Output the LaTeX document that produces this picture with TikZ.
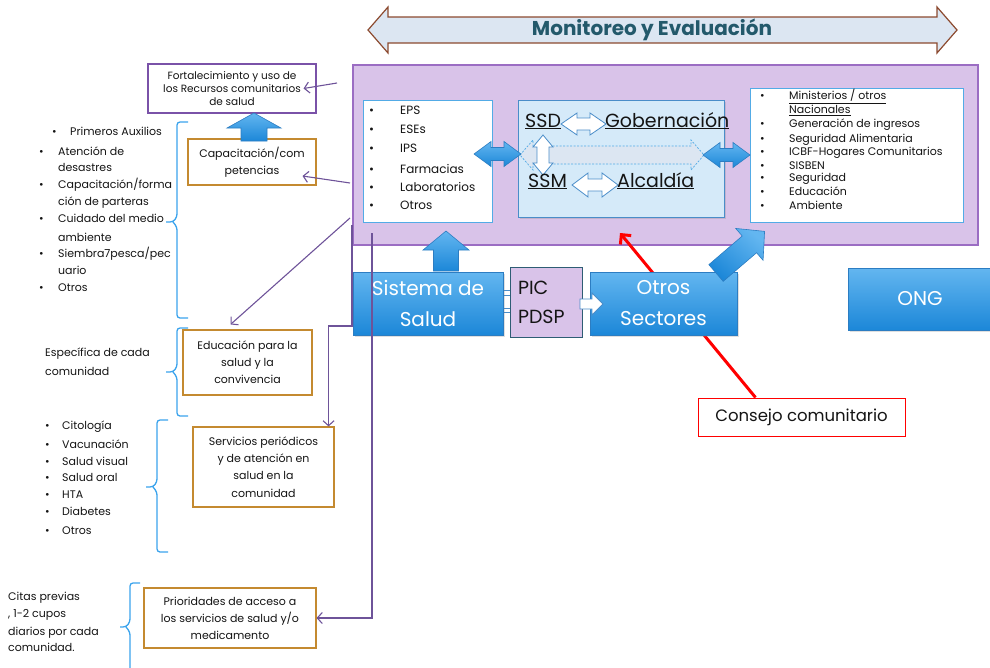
\documentclass[tikz,border=0pt]{standalone}
\usepackage{fontspec}
\setmainfont{Poppins}
\usetikzlibrary{arrows.meta,shadows}

\definecolor{lav}{HTML}{D9C3E9}
\definecolor{lavedge}{HTML}{9B6DC3}
\definecolor{skyfill}{HTML}{D5EAF9}
\definecolor{skyedge}{HTML}{4A8DC9}
\definecolor{listedge}{HTML}{52ABE6}
\definecolor{bluetop}{HTML}{63B6F0}
\definecolor{bluebot}{HTML}{1C87D8}
\definecolor{blueedge}{HTML}{2C7DC2}
\definecolor{orng}{HTML}{C48A30}
\definecolor{purp}{HTML}{6E5399}
\definecolor{fortedge}{HTML}{7A52A8}
\definecolor{brc}{HTML}{3BA3EC}
\definecolor{titlefill}{HTML}{DCE6F2}
\definecolor{titleedge}{HTML}{8C4A2F}
\definecolor{titletext}{HTML}{23596B}
\definecolor{picedge}{HTML}{2E5D74}
\definecolor{txt}{HTML}{141414}

\newcommand\fsz[2]{\fontsize{#1}{#2}\selectfont}
% horizontal double block arrow: x-left, x-right, y-centre, shaft half, head half, head length, style
\newcommand\hdarrow[7]{\draw[#7] (#1,#3) -- ({#1+#6},{#3-#5}) -- ({#1+#6},{#3-#4}) -- ({#2-#6},{#3-#4}) -- ({#2-#6},{#3-#5}) -- (#2,#3) -- ({#2-#6},{#3+#5}) -- ({#2-#6},{#3+#4}) -- ({#1+#6},{#3+#4}) -- ({#1+#6},{#3+#5}) -- cycle;}
% vertical double block arrow: y-top, y-bottom, x-centre, shaft half, head half, head length, style
\newcommand\vdarrow[7]{\draw[#7] (#3,#1) -- ({#3+#5},{#1+#6}) -- ({#3+#4},{#1+#6}) -- ({#3+#4},{#2-#6}) -- ({#3+#5},{#2-#6}) -- (#3,#2) -- ({#3-#5},{#2-#6}) -- ({#3-#4},{#2-#6}) -- ({#3-#4},{#1+#6}) -- ({#3-#5},{#1+#6}) -- cycle;}
% upward block arrow: y-tip, y-bottom, x-centre, shaft half, head half, head length, style
\newcommand\uparr[7]{\draw[#7] (#3,#1) -- ({#3+#5},{#1+#6}) -- ({#3+#4},{#1+#6}) -- ({#3+#4},#2) -- ({#3-#4},#2) -- ({#3-#4},{#1+#6}) -- ({#3-#5},{#1+#6}) -- cycle;}
% rightward block arrow: x-left, x-tip, y-centre, shaft half, head half, head length, style
\newcommand\rarr[7]{\draw[#7] (#1,{#3-#4}) -- ({#2-#6},{#3-#4}) -- ({#2-#6},{#3-#5}) -- (#2,#3) -- ({#2-#6},{#3+#5}) -- ({#2-#6},{#3+#4}) -- (#1,{#3+#4}) -- cycle;}
% left curly bracket: x of the spine, y-top, y-tip, y-bottom, arm length
\newcommand\bracemark[5]{\draw[bracket] ({#1+#5},#2) -- (#1,#2) -- (#1,{#3-5}) -- ({#1-4},#3) -- ({#1-#5},#3) ({#1-4},#3) -- (#1,{#3+5}) -- (#1,#4) -- ({#1+#5},#4);}

\begin{document}
\begin{tikzpicture}[x=1pt,y=-1pt,
  every node/.style={inner sep=0pt, text=txt},
  obox/.style={draw=orng, line width=1.1pt, fill=white, align=center},
  bluebox/.style={draw=blueedge, line width=0.8pt, top color=bluetop, bottom color=bluebot,
    text=white, align=center, font=\fsz{20}{31},
    drop shadow={shadow xshift=1.5pt, shadow yshift=-1.5pt, opacity=0.25}},
  listbox/.style={draw=listedge, line width=1pt, fill=white},
  litem/.style={anchor=west, text height=0.72em, text depth=0.22em},
  plink/.style={draw=purp, line width=1.1pt, -{Straight Barb[length=5pt,width=11pt,line width=1.1pt]}},
  bracket/.style={draw=brc, line width=1.3pt, rounded corners=3pt},
  bluearrow/.style={draw=blueedge, line width=0.6pt, top color=bluetop, bottom color=bluebot},
  whitearrow/.style={draw=skyedge, line width=0.8pt, fill=white},
]
\useasboundingbox (0,0) rectangle (990,667);

% monitoring banner
\hdarrow{368}{957}{30}{13}{23}{20}{draw=titleedge, fill=titlefill, line width=1.2pt}
\node[font=\bfseries\fsz{20}{22}, text=titletext] (title) at (652,30) {Monitoreo y Evaluación};

% institutional frame
\node[draw=lavedge, fill=lav, line width=1.2pt, minimum width=625, minimum height=180] (frame) at (665.5,155) {};

% health actors
\node[listbox, minimum width=129, minimum height=122] (eps) at (427.5,161) {};
\foreach \y/\t [count=\i] in {112/EPS,131/ESEs,150/IPS,171/Farmacias,189/Laboratorios,207/Otros}{
  \node[litem, font=\fsz{12}{14}] (epsb\i) at (369,\y) {\textbullet};
  \node[litem, font=\fsz{12}{14}] (epst\i) at (400,\y) {\t};
}

% government block
\node[draw=skyedge, fill=skyfill, line width=1pt, minimum width=206, minimum height=117,
  drop shadow={shadow xshift=1.5pt, shadow yshift=-1.5pt, opacity=0.25}] (gov) at (621,158.5) {};
\hdarrow{520}{704}{155}{9}{15}{13}{draw=listedge, dash pattern=on 2pt off 1.5pt, fill=titlefill, line width=0.7pt}
\hdarrow{561}{606}{124}{6}{11}{16}{whitearrow}
\hdarrow{572}{618}{185}{6}{12}{16}{whitearrow}
\vdarrow{135}{175}{543}{6}{10}{12}{whitearrow}
\node[anchor=base west, font=\fsz{19}{22}] (ssd) at (525,127) {\underline{SSD}};
\node[anchor=base west, font=\fsz{19}{22}] (gob) at (605,127) {\underline{Gobernación}};
\node[anchor=base west, font=\fsz{19}{22}] (ssm) at (528,187) {\underline{SSM}};
\node[anchor=base west, font=\fsz{19}{22}] (alc) at (617,187) {\underline{Alcaldía}};

% other sectors list
\node[listbox, minimum width=213, minimum height=134] (sect) at (856.5,155) {};
\foreach \y/\t [count=\i] in {97/{\underline{Ministerios / otros}},125/{Generación de ingresos},140/{Seguridad Alimentaria},153/{ICBF-Hogares Comunitarios},167/SISBEN,179/Seguridad,193/Educación,207/Ambiente}{
  \node[litem, font=\fsz{11}{13}] (secb\i) at (760,\y) {\textbullet};
  \node[litem, font=\fsz{11}{13}] (sect\i) at (789,\y) {\t};
}
\node[litem, font=\fsz{11}{13}] (nac) at (789,111) {\underline{Nacionales}};

% links between blocks
\hdarrow{474}{521}{154}{6.5}{12.5}{17}{bluearrow}
\hdarrow{703}{750}{155}{6.5}{12.5}{17}{bluearrow}

% community council
\node[draw=red, fill=white, line width=1pt, minimum width=207, minimum height=38, font=\fsz{16.5}{20}] (consejo) at (801.5,417) {Consejo comunitario};
\coordinate (redtip) at (620,233);
\draw[red, line width=3pt, -{Straight Barb[length=7pt,width=14pt]}] ([xshift=-46pt]consejo.north) -- (redtip);

% lower blocks
\draw[whitearrow] (499,290) rectangle (512,312);
\draw[draw=skyedge, line width=0.6pt] (499,295) -- (512,295) (499,308) -- (512,308);
\node[bluebox, minimum width=150, minimum height=63] (sist) at (428,303.5) {Sistema de\\Salud};
\node[draw=picedge, fill=lav, line width=1pt, minimum width=72, minimum height=70, font=\fsz{19}{29}, align=left, text width=56] (pic) at (546,302) {PIC\\PDSP};
\node[bluebox, minimum width=147, minimum height=63] (otros) at (663.5,303.5) {Otros\\Sectores};
\node[bluebox, minimum width=144, minimum height=62] (ong) at (920,299) {ONG};
\uparr{231}{271}{446}{12.5}{23}{19}{bluearrow}
\rarr{580}{603}{304}{5}{11}{11}{whitearrow}
\begin{scope}[shift={(716,273)}, rotate=40.6]
  \draw[bluearrow, shading angle=-40] (0,-11) -- (44,-11) -- (44,-21) -- (64,0) -- (44,21) -- (44,11) -- (0,11) -- cycle;
\end{scope}

% community actions
\node[draw=fortedge, fill=white, line width=1.1pt, minimum width=168, minimum height=49, font=\fsz{10.5}{12.8}, align=center] (fort) at (232,88.5) {Fortalecimiento y uso de\\los Recursos comunitarios\\de salud};
\node[obox, minimum width=128, minimum height=46, font=\fsz{11}{17}] (capac) at (252,162) {Capacitación/com\\petencias};
\uparr{113}{141}{254}{13}{27}{15}{bluearrow}
\node[obox, minimum width=129, minimum height=65, font=\fsz{11}{17}] (educ) at (247.5,362.5) {Educación para la\\salud y la\\convivencia};
\node[obox, minimum width=141, minimum height=80, font=\fsz{11}{17.3}] (serv) at (263.5,467) {Servicios periódicos\\y de atención en\\salud en la\\comunidad};
\node[obox, minimum width=172, minimum height=60, font=\fsz{11}{17}] (prior) at (230,618) {Prioridades de acceso a\\los servicios de salud y/o\\medicamento};

% purple links from the frame
\coordinate (s1) at (337,83);
\coordinate (s2) at (350,183);
\coordinate (s3) at (350,218);
\coordinate (s4) at (352,225);
\coordinate (k4) at (352,326);
\coordinate (s5) at (372,233);
\draw[plink] (s1) -- ([xshift=-13pt]fort.east);
\draw[plink] (s2) -- ([xshift=-14pt,yshift=-14pt]capac.east);
\draw[plink] (s3) -- ([xshift=-17pt,yshift=5pt]educ.north);
\draw[plink] (s4) -- (k4) -| ([xshift=-6pt]serv.north east);
\draw[plink] (s5) |- (prior.east);

% brackets
\bracemark{177}{122}{222}{318}{11}
\bracemark{177}{328}{372}{416}{11}
\bracemark{157}{420}{487}{552}{11}
\bracemark{130}{583}{627}{690}{10}

% side notes
\node[litem, font=\fsz{11}{13}] (pab) at (52,133) {\textbullet};
\node[litem, font=\fsz{11}{13}] (pa) at (70,133) {Primeros Auxilios};
\foreach \y/\t/\b [count=\i] in {153/{Atención de}/1,169/desastres/0,186/{Capacitación/forma}/1,203/{ción de parteras}/0,220/{Cuidado del medio}/1,239/ambiente/0,255/{Siembra7pesca/pec}/1,272/uario/0,289/Otros/1}{
  \node[litem, font=\fsz{11}{13}] (lt\i) at (58,\y) {\t};
  \ifnum\b=1 \node[litem, font=\fsz{11}{13}] (lb\i) at (39,\y) {\textbullet};\fi
}
\node[litem, font=\fsz{11}{13}] (esp1) at (45,354) {Específica de cada};
\node[litem, font=\fsz{11}{13}] (esp2) at (45,373) {comunidad};
\foreach \y/\t [count=\i] in {427/Citología,446/Vacunación,463/{Salud visual},479/{Salud oral},496/HTA,513/Diabetes,532/Otros}{
  \node[litem, font=\fsz{11}{13}] (cb\i) at (45,\y) {\textbullet};
  \node[litem, font=\fsz{11}{13}] (ct\i) at (62,\y) {\t};
}
\foreach \y/\t [count=\i] in {598/{Citas previas},615/{, 1-2 cupos},633/{diarios por cada},649/{comunidad.}}{
  \node[litem, font=\fsz{11}{13}] (cp\i) at (8,\y) {\t};
}
\end{tikzpicture}
\end{document}
